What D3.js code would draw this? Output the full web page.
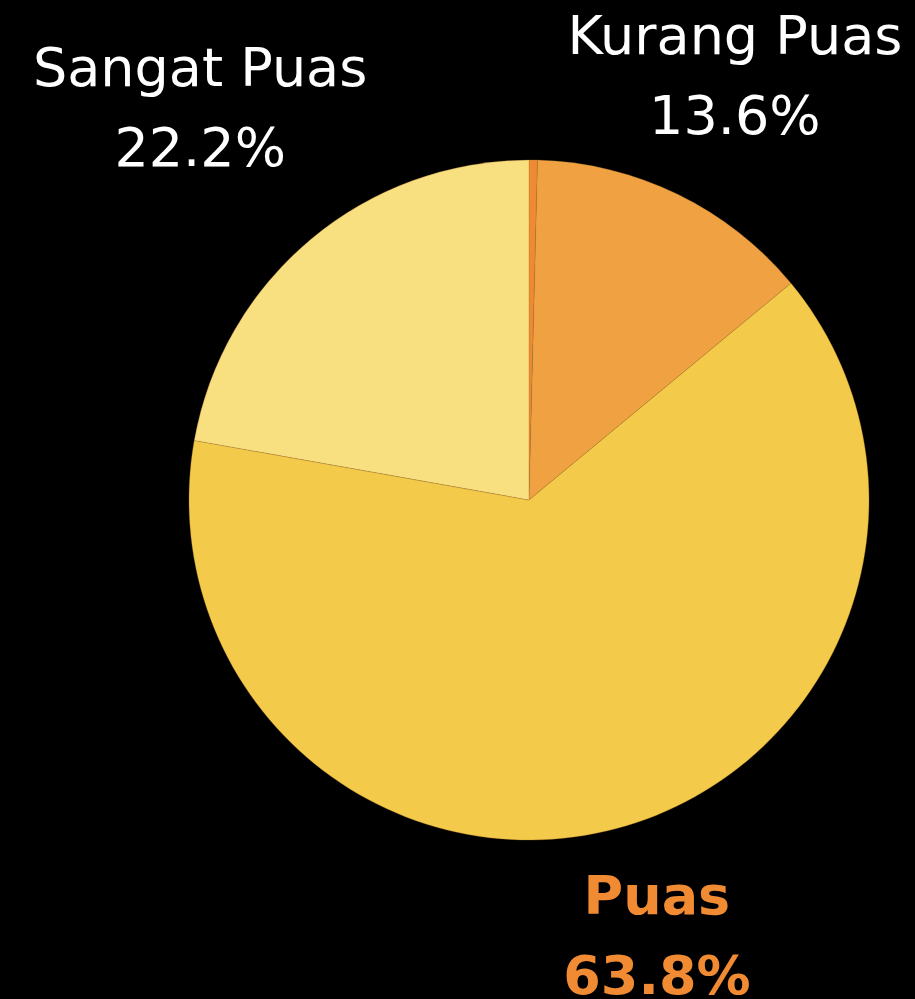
<!DOCTYPE html>
<html>
<head>
<meta charset="utf-8">
<script src="https://cdn.jsdelivr.net/npm/d3@7"></script>
<style>
  html, body { margin: 0; padding: 0; background: #000; }
</style>
</head>
<body>
<svg id="chart"></svg>
<script>
// Data
var categories = ["Tidak Puas", "Kurang Puas", "Puas", "Sangat Puas"];
var values = [0.4, 13.6, 63.8, 22.2];
var sliceColors = ["#EE8A34", "#F0A243", "#F4CA4A", "#F8DF7F"];
var showLabel = [false, true, true, true];
var highlight = "Puas";

var width = 915, height = 999,
    cx = 529, cy = 500,
    radius = 340;

var svg = d3.select("#chart")
  .attr("width", width)
  .attr("height", height)
  .style("background", "#000");

var g = svg.append("g")
  .attr("transform", "translate(" + cx + "," + cy + ")");

var rows = categories.map(function(c, i) {
  return { name: c, value: values[i], color: sliceColors[i], label: showLabel[i] };
});

var pie = d3.pie()
  .sort(null)
  .value(function(d) { return d.value; });

var arc = d3.arc()
  .innerRadius(0)
  .outerRadius(radius);

var arcs = pie(rows);

// Slices
g.selectAll("path.slice")
  .data(arcs)
  .enter().append("path")
  .attr("class", "slice")
  .attr("d", arc)
  .style("fill", function(d) { return d.data.color; })
  .style("stroke", "#b07a2a")
  .style("stroke-width", 0.5)
  .style("stroke-opacity", 0.6);

// label distance from centre, a bit different per label like the original
function labelRadius(name) {
  if (name == "Sangat Puas") return 512;
  if (name == "Puas") return 451;
  return 471;
}
function labelNudge(name) {
  return name == "Puas" ? 13 : 0;
}

var labels = g.selectAll("text.lbl")
  .data(arcs.filter(function(d) { return d.data.label; }))
  .enter().append("text")
  .attr("class", "lbl")
  .attr("text-anchor", "middle")
  .style("font-family", "'DejaVu Sans', sans-serif")
  .style("font-size", "54px")
  .style("font-weight", function(d) { return d.data.name == highlight ? 700 : 400; })
  .style("fill", function(d) { return d.data.name == highlight ? "#F08A33" : "#ffffff"; })
  .attr("transform", function(d) {
    var r = labelRadius(d.data.name);
    var c = d3.arc().innerRadius(r).outerRadius(r).centroid(d);
    return "translate(" + (c[0] + labelNudge(d.data.name)) + "," + c[1] + ")";
  });

labels.append("tspan")
  .attr("x", 0)
  .attr("y", -22)
  .text(function(d) { return d.data.name; });

labels.append("tspan")
  .attr("x", 0)
  .attr("y", 58)
  .text(function(d) { return d.data.value.toFixed(1) + "%"; });
</script>
</body>
</html>
